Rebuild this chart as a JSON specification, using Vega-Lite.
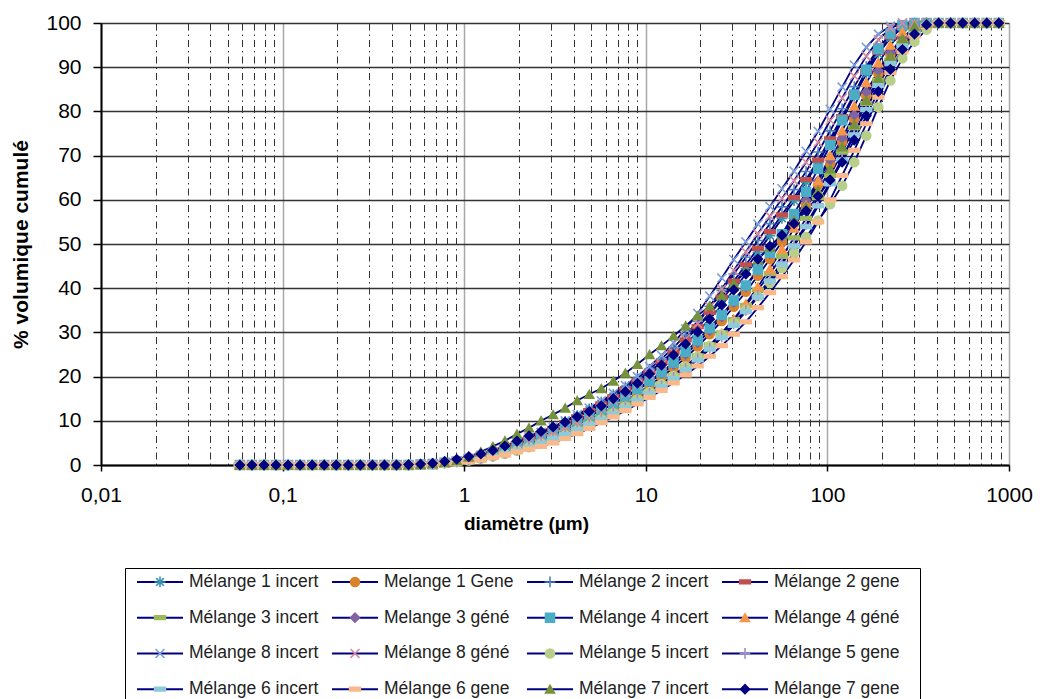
{
  "$schema": "https://vega.github.io/schema/vega-lite/v6.json",
  "background": "white",
  "padding": {"left": 10, "top": 12, "right": 5, "bottom": 0},
  "spacing": 103,
  "bounds": "flush",
  "config": {"font": "Liberation Sans", "view": {"stroke": null}},
  "datasets": {
    "psd": [
      {"dm":0.0582,"a":0,"b":0,"c":0,"d":0,"e":0,"f":0,"g":0,"h":0,"i":0,"j":0,"k":0,"l":0,"m":0,"n":0,"o":0,"p":0},
      {"dm":0.0678,"a":0,"b":0,"c":0,"d":0,"e":0,"f":0,"g":0,"h":0,"i":0,"j":0,"k":0,"l":0,"m":0,"n":0,"o":0,"p":0},
      {"dm":0.079,"a":0,"b":0,"c":0,"d":0,"e":0,"f":0,"g":0,"h":0,"i":0,"j":0,"k":0,"l":0,"m":0,"n":0,"o":0,"p":0},
      {"dm":0.092,"a":0,"b":0,"c":0,"d":0,"e":0,"f":0,"g":0,"h":0,"i":0,"j":0,"k":0,"l":0,"m":0,"n":0,"o":0,"p":0},
      {"dm":0.1072,"a":0,"b":0,"c":0,"d":0,"e":0,"f":0,"g":0,"h":0,"i":0,"j":0,"k":0,"l":0,"m":0,"n":0,"o":0,"p":0},
      {"dm":0.1249,"a":0,"b":0,"c":0,"d":0,"e":0,"f":0,"g":0,"h":0,"i":0,"j":0,"k":0,"l":0,"m":0,"n":0,"o":0,"p":0},
      {"dm":0.1455,"a":0,"b":0,"c":0,"d":0,"e":0,"f":0,"g":0,"h":0,"i":0,"j":0,"k":0,"l":0,"m":0,"n":0,"o":0,"p":0},
      {"dm":0.1695,"a":0,"b":0,"c":0,"d":0,"e":0,"f":0,"g":0,"h":0,"i":0,"j":0,"k":0,"l":0,"m":0,"n":0,"o":0,"p":0},
      {"dm":0.1974,"a":0,"b":0,"c":0,"d":0,"e":0,"f":0,"g":0,"h":0,"i":0,"j":0,"k":0,"l":0,"m":0,"n":0,"o":0,"p":0},
      {"dm":0.23,"a":0,"b":0,"c":0,"d":0,"e":0,"f":0,"g":0,"h":0,"i":0,"j":0,"k":0,"l":0,"m":0,"n":0,"o":0,"p":0},
      {"dm":0.268,"a":0,"b":0,"c":0,"d":0,"e":0,"f":0,"g":0,"h":0,"i":0,"j":0,"k":0,"l":0,"m":0,"n":0,"o":0,"p":0},
      {"dm":0.3122,"a":0,"b":0,"c":0,"d":0,"e":0,"f":0,"g":0,"h":0,"i":0,"j":0,"k":0,"l":0,"m":0,"n":0,"o":0,"p":0},
      {"dm":0.3638,"a":0,"b":0,"c":0,"d":0,"e":0,"f":0,"g":0,"h":0,"i":0,"j":0,"k":0,"l":0,"m":0,"n":0,"o":0,"p":0},
      {"dm":0.4238,"a":0,"b":0,"c":0,"d":0,"e":0,"f":0,"g":0,"h":0,"i":0,"j":0,"k":0,"l":0,"m":0,"n":0,"o":0,"p":0},
      {"dm":0.4937,"a":0,"b":0,"c":0,"d":0,"e":0,"f":0,"g":0,"h":0,"i":0,"j":0,"k":0,"l":0,"m":0,"n":0,"o":0,"p":0.1},
      {"dm":0.5752,"a":0.1,"b":0.1,"c":0.1,"d":0.1,"e":0.1,"f":0.1,"g":0.1,"h":0.1,"i":0.1,"j":0.1,"k":0.1,"l":0.1,"m":0.1,"n":0.1,"o":0.1,"p":0.2},
      {"dm":0.6701,"a":0.3,"b":0.2,"c":0.3,"d":0.3,"e":0.2,"f":0.3,"g":0.2,"h":0.2,"i":0.2,"j":0.2,"k":0.2,"l":0.2,"m":0.2,"n":0.2,"o":0.3,"p":0.4},
      {"dm":0.7807,"a":0.6,"b":0.5,"c":0.6,"d":0.6,"e":0.4,"f":0.6,"g":0.5,"h":0.4,"i":0.5,"j":0.4,"k":0.4,"l":0.4,"m":0.4,"n":0.3,"o":0.6,"p":0.8},
      {"dm":0.9096,"a":1.0,"b":0.8,"c":1.0,"d":1.0,"e":0.7,"f":1.0,"g":0.8,"h":0.7,"i":0.9,"j":0.8,"k":0.7,"l":0.7,"m":0.6,"n":0.5,"o":1.0,"p":1.3},
      {"dm":1.06,"a":1.6,"b":1.3,"c":1.6,"d":1.5,"e":1.1,"f":1.5,"g":1.3,"h":1.1,"i":1.5,"j":1.3,"k":1.0,"l":1.0,"m":1.0,"n":0.8,"o":1.8,"p":1.9},
      {"dm":1.235,"a":2.3,"b":1.9,"c":2.3,"d":2.2,"e":1.6,"f":2.1,"g":1.9,"h":1.6,"i":2.2,"j":1.9,"k":1.4,"l":1.5,"m":1.4,"n":1.2,"o":3.0,"p":2.5},
      {"dm":1.439,"a":3.1,"b":2.5,"c":3.1,"d":3.0,"e":2.2,"f":2.8,"g":2.6,"h":2.2,"i":3.0,"j":2.6,"k":1.9,"l":2.0,"m":1.9,"n":1.7,"o":4.2,"p":3.3},
      {"dm":1.676,"a":4.0,"b":3.2,"c":4.0,"d":3.9,"e":2.9,"f":3.6,"g":3.4,"h":2.9,"i":4.0,"j":3.4,"k":2.5,"l":2.7,"m":2.5,"n":2.3,"o":5.5,"p":4.3},
      {"dm":1.953,"a":5.0,"b":4.0,"c":5.0,"d":4.9,"e":3.7,"f":4.5,"g":4.3,"h":3.7,"i":5.0,"j":4.3,"k":3.2,"l":3.4,"m":3.2,"n":3.0,"o":7.0,"p":5.4},
      {"dm":2.275,"a":6.1,"b":4.9,"c":6.1,"d":6.0,"e":4.5,"f":5.5,"g":5.3,"h":4.6,"i":6.2,"j":5.3,"k":4.0,"l":4.2,"m":4.0,"n":3.6,"o":8.4,"p":6.6},
      {"dm":2.651,"a":7.2,"b":5.9,"c":7.3,"d":7.1,"e":5.4,"f":6.5,"g":6.3,"h":5.5,"i":7.4,"j":6.4,"k":4.8,"l":5.1,"m":4.9,"n":4.2,"o":10.0,"p":7.6},
      {"dm":3.088,"a":8.4,"b":6.9,"c":8.5,"d":8.3,"e":6.4,"f":7.6,"g":7.4,"h":6.5,"i":8.6,"j":7.6,"k":5.7,"l":6.0,"m":5.9,"n":5.0,"o":11.4,"p":8.6},
      {"dm":3.597,"a":9.7,"b":8.0,"c":9.8,"d":9.6,"e":7.4,"f":8.7,"g":8.5,"h":7.5,"i":10.0,"j":8.8,"k":6.7,"l":7.0,"m":6.9,"n":6.0,"o":12.9,"p":9.7},
      {"dm":4.191,"a":11.0,"b":9.2,"c":11.2,"d":10.9,"e":8.5,"f":9.9,"g":9.7,"h":8.6,"i":11.4,"j":10.1,"k":7.8,"l":8.1,"m":8.0,"n":7.1,"o":14.6,"p":10.9},
      {"dm":4.882,"a":12.4,"b":10.4,"c":12.7,"d":12.3,"e":9.7,"f":11.1,"g":11.0,"h":9.7,"i":12.9,"j":11.5,"k":9.0,"l":9.2,"m":9.1,"n":8.3,"o":16.0,"p":12.1},
      {"dm":5.688,"a":13.9,"b":11.7,"c":14.2,"d":13.8,"e":10.9,"f":12.4,"g":12.4,"h":10.9,"i":14.5,"j":13.0,"k":10.3,"l":10.4,"m":10.3,"n":9.6,"o":17.3,"p":13.4},
      {"dm":6.626,"a":15.5,"b":13.1,"c":15.9,"d":15.4,"e":12.2,"f":13.8,"g":13.9,"h":12.1,"i":16.2,"j":14.6,"k":11.7,"l":11.7,"m":11.6,"n":10.9,"o":19.0,"p":15.0},
      {"dm":7.72,"a":17.2,"b":14.6,"c":17.7,"d":17.1,"e":13.6,"f":15.3,"g":15.5,"h":13.4,"i":18.0,"j":16.3,"k":13.2,"l":13.1,"m":13.0,"n":12.3,"o":20.8,"p":16.6},
      {"dm":8.994,"a":19.1,"b":16.2,"c":19.6,"d":19.0,"e":15.1,"f":16.9,"g":17.2,"h":14.8,"i":20.0,"j":18.2,"k":14.8,"l":14.6,"m":14.5,"n":13.8,"o":22.8,"p":18.5},
      {"dm":10.48,"a":21.1,"b":18.0,"c":21.7,"d":21.0,"e":16.7,"f":18.7,"g":19.0,"h":16.3,"i":22.3,"j":20.3,"k":16.5,"l":16.2,"m":16.1,"n":15.3,"o":25.0,"p":20.6},
      {"dm":12.21,"a":23.3,"b":19.9,"c":24.0,"d":23.2,"e":18.4,"f":20.6,"g":21.0,"h":18.0,"i":24.8,"j":22.7,"k":18.3,"l":17.9,"m":17.8,"n":16.9,"o":27.0,"p":22.6},
      {"dm":14.22,"a":25.7,"b":22.0,"c":26.6,"d":25.6,"e":20.3,"f":22.7,"g":23.2,"h":19.9,"i":27.6,"j":25.4,"k":20.2,"l":19.8,"m":19.6,"n":18.6,"o":29.2,"p":24.9},
      {"dm":16.57,"a":28.3,"b":24.3,"c":29.4,"d":28.3,"e":22.4,"f":25.0,"g":25.6,"h":22.0,"i":30.8,"j":28.5,"k":22.3,"l":21.8,"m":21.6,"n":20.4,"o":31.5,"p":27.4},
      {"dm":19.3,"a":31.1,"b":26.8,"c":32.5,"d":31.3,"e":24.7,"f":27.6,"g":28.2,"h":24.3,"i":34.3,"j":32.0,"k":24.5,"l":24.0,"m":23.8,"n":22.4,"o":33.8,"p":30.1},
      {"dm":22.49,"a":34.1,"b":29.6,"c":35.9,"d":34.5,"e":27.2,"f":30.4,"g":31.0,"h":26.9,"i":38.2,"j":35.8,"k":26.9,"l":26.4,"m":26.2,"n":24.6,"o":36.0,"p":33.0},
      {"dm":26.2,"a":37.4,"b":32.6,"c":39.5,"d":38.0,"e":29.9,"f":33.5,"g":34.0,"h":29.8,"i":42.3,"j":39.8,"k":29.5,"l":29.0,"m":28.8,"n":27.0,"o":38.4,"p":36.2},
      {"dm":30.52,"a":40.8,"b":35.8,"c":43.2,"d":41.6,"e":32.9,"f":36.8,"g":37.2,"h":33.0,"i":46.5,"j":44.0,"k":32.2,"l":31.9,"m":31.6,"n":29.6,"o":41.0,"p":39.6},
      {"dm":35.56,"a":44.4,"b":39.2,"c":47.0,"d":45.3,"e":36.1,"f":40.3,"g":40.6,"h":36.5,"i":50.5,"j":48.2,"k":35.1,"l":35.0,"m":34.7,"n":32.4,"o":43.8,"p":43.2},
      {"dm":41.42,"a":48.1,"b":42.8,"c":50.8,"d":49.0,"e":39.6,"f":44.0,"g":44.2,"h":40.3,"i":54.5,"j":52.3,"k":38.2,"l":38.4,"m":38.0,"n":35.6,"o":46.5,"p":46.6},
      {"dm":48.26,"a":51.9,"b":46.6,"c":54.6,"d":52.8,"e":43.3,"f":47.8,"g":48.0,"h":44.4,"i":58.5,"j":56.3,"k":41.2,"l":42.0,"m":41.6,"n":39.0,"o":49.3,"p":49.5},
      {"dm":56.22,"a":55.8,"b":50.5,"c":58.4,"d":56.6,"e":47.2,"f":51.7,"g":52.2,"h":48.8,"i":62.5,"j":60.3,"k":44.5,"l":45.9,"m":45.4,"n":42.6,"o":52.2,"p":52.0},
      {"dm":65.5,"a":59.8,"b":54.6,"c":62.3,"d":60.5,"e":51.4,"f":55.7,"g":56.8,"h":53.6,"i":66.5,"j":64.3,"k":48.0,"l":50.0,"m":49.5,"n":46.4,"o":55.3,"p":54.6},
      {"dm":76.31,"a":64.0,"b":58.9,"c":66.4,"d":64.6,"e":55.8,"f":59.9,"g":61.8,"h":58.8,"i":71.0,"j":68.5,"k":51.6,"l":54.4,"m":53.9,"n":50.5,"o":58.5,"p":57.5},
      {"dm":88.9,"a":68.4,"b":63.4,"c":70.8,"d":69.0,"e":60.5,"f":64.3,"g":67.0,"h":64.3,"i":75.5,"j":73.0,"k":55.3,"l":59.1,"m":58.6,"n":55.0,"o":62.0,"p":60.8},
      {"dm":103.6,"a":73.2,"b":68.1,"c":75.6,"d":73.8,"e":65.5,"f":69.0,"g":72.4,"h":70.0,"i":80.5,"j":78.0,"k":59.0,"l":64.1,"m":63.6,"n":60.0,"o":67.0,"p":64.5},
      {"dm":120.6,"a":78.2,"b":73.1,"c":80.6,"d":78.8,"e":70.8,"f":74.0,"g":78.0,"h":75.6,"i":85.5,"j":83.0,"k":63.2,"l":69.4,"m":69.0,"n":65.5,"o":72.0,"p":68.5},
      {"dm":140.6,"a":83.4,"b":78.3,"c":85.6,"d":84.0,"e":76.3,"f":79.2,"g":83.8,"h":81.2,"i":90.5,"j":88.0,"k":68.5,"l":75.0,"m":74.7,"n":71.2,"o":77.0,"p":73.5},
      {"dm":163.8,"a":88.5,"b":83.5,"c":90.2,"d":89.0,"e":81.8,"f":84.4,"g":89.4,"h":86.5,"i":94.5,"j":92.5,"k":74.5,"l":80.6,"m":80.4,"n":77.2,"o":82.5,"p":79.0},
      {"dm":190.8,"a":93.0,"b":88.5,"c":94.2,"d":93.4,"e":87.0,"f":89.2,"g":94.2,"h":91.0,"i":97.5,"j":96.2,"k":81.0,"l":86.0,"m":85.9,"n":83.2,"o":87.5,"p":84.5},
      {"dm":222.3,"a":96.6,"b":92.8,"c":97.4,"d":96.8,"e":91.6,"f":93.4,"g":97.6,"h":95.0,"i":99.3,"j":98.8,"k":87.0,"l":90.9,"m":90.8,"n":88.8,"o":92.5,"p":89.5},
      {"dm":259.0,"a":98.9,"b":96.3,"c":99.4,"d":99.0,"e":95.4,"f":96.7,"g":99.5,"h":98.0,"i":100,"j":100,"k":92.0,"l":94.9,"m":94.8,"n":93.5,"o":96.5,"p":94.0},
      {"dm":301.7,"a":100,"b":98.7,"c":100,"d":100,"e":98.2,"f":98.9,"g":100,"h":99.6,"i":100,"j":100,"k":95.8,"l":97.9,"m":97.8,"n":97.0,"o":99.2,"p":97.5},
      {"dm":351.5,"a":100,"b":99.8,"c":100,"d":100,"e":99.7,"f":99.9,"g":100,"h":100,"i":100,"j":100,"k":98.5,"l":99.6,"m":99.5,"n":99.2,"o":100,"p":99.6},
      {"dm":409.5,"a":100,"b":100,"c":100,"d":100,"e":100,"f":100,"g":100,"h":100,"i":100,"j":100,"k":100,"l":100,"m":100,"n":100,"o":100,"p":100},
      {"dm":477.0,"a":100,"b":100,"c":100,"d":100,"e":100,"f":100,"g":100,"h":100,"i":100,"j":100,"k":100,"l":100,"m":100,"n":100,"o":100,"p":100},
      {"dm":555.7,"a":100,"b":100,"c":100,"d":100,"e":100,"f":100,"g":100,"h":100,"i":100,"j":100,"k":100,"l":100,"m":100,"n":100,"o":100,"p":100},
      {"dm":647.4,"a":100,"b":100,"c":100,"d":100,"e":100,"f":100,"g":100,"h":100,"i":100,"j":100,"k":100,"l":100,"m":100,"n":100,"o":100,"p":100},
      {"dm":754.2,"a":100,"b":100,"c":100,"d":100,"e":100,"f":100,"g":100,"h":100,"i":100,"j":100,"k":100,"l":100,"m":100,"n":100,"o":100,"p":100},
      {"dm":878.7,"a":100,"b":100,"c":100,"d":100,"e":100,"f":100,"g":100,"h":100,"i":100,"j":100,"k":100,"l":100,"m":100,"n":100,"o":100,"p":100}
    ],
    "leg": [
      {"k":"a","n":"Mélange 1 incert","c":0,"r":0},
      {"k":"b","n":"Melange 1 Gene","c":1,"r":0},
      {"k":"c","n":"Mélange 2 incert","c":2,"r":0},
      {"k":"d","n":"Mélange 2 gene","c":3,"r":0},
      {"k":"e","n":"Mélange 3 incert","c":0,"r":1},
      {"k":"f","n":"Melange 3 géné","c":1,"r":1},
      {"k":"g","n":"Mélange 4 incert","c":2,"r":1},
      {"k":"h","n":"Mélange 4 géné","c":3,"r":1},
      {"k":"i","n":"Mélange 8 incert","c":0,"r":2},
      {"k":"j","n":"Mélange 8 géné","c":1,"r":2},
      {"k":"k","n":"Mélange 5 incert","c":2,"r":2},
      {"k":"l","n":"Mélange 5 gene","c":3,"r":2},
      {"k":"m","n":"Mélange 6 incert","c":0,"r":3},
      {"k":"n","n":"Mélange 6 gene","c":1,"r":3},
      {"k":"o","n":"Mélange 7 incert","c":2,"r":3},
      {"k":"p","n":"Mélange 7 gene","c":3,"r":3}
    ]
  },
  "vconcat": [
    {
      "width": 908,
      "height": 442,
      "data": {"name": "psd"},
      "transform": [{"fold": ["a","b","c","d","e","f","g","h","i","j","k","l","m","n","o","p"], "as": ["k","v"]}],
      "layer": [
        {
          "mark": {"type": "line", "color": "#000080", "strokeWidth": 1.8},
          "encoding": {
            "x": {"field": "dm", "type": "quantitative", "scale": {"type": "log", "domain": [0.01, 1000]},
              "axis": {"values": [0.01, 0.1, 1, 10, 100, 1000], "labelExpr": "replace(toString(datum.value), '.', ',')",
                "labelFont": "Liberation Sans", "labelFontSize": 21, "labelColor": "#000", "labelPadding": 13, "labelFlush": false,
                "tickSize": 6, "tickColor": "#000", "tickWidth": 1.5, "domainColor": "#000", "domainWidth": 2,
                "grid": true, "gridColor": "#a8a8a8", "gridWidth": 1.5,
                "title": "diamètre (µm)", "titleFont": "Liberation Sans", "titleFontSize": 19, "titleFontWeight": "bold", "titleColor": "#000",
                "titleX": 425, "titlePadding": 9}},
            "y": {"field": "v", "type": "quantitative", "scale": {"domain": [0, 100], "nice": false},
              "axis": {"values": [0,10,20,30,40,50,60,70,80,90,100],
                "labelFont": "Liberation Sans", "labelFontSize": 21, "labelColor": "#000", "labelPadding": 12,
                "tickSize": 8, "tickColor": "#000", "tickWidth": 1.5, "domainColor": "#000", "domainWidth": 2,
                "grid": true, "gridColor": "#333", "gridWidth": 1.5,
                "title": "% volumique cumulé", "titleFont": "Liberation Sans", "titleFontSize": 21, "titleFontWeight": "bold", "titleColor": "#000", "titlePadding": 14}},
            "detail": {"field": "k"}
          }
        },
        {
          "mark": {"type": "point", "filled": true, "size": 80, "strokeWidth": 1.6, "opacity": 1},
          "encoding": {
            "x": {"field": "dm", "type": "quantitative", "scale": {"type": "log", "domain": [0.01, 1000]},
              "axis": {"orient": "bottom", "values": [0.02,0.03,0.04,0.05,0.06,0.07,0.08,0.09,0.2,0.3,0.4,0.5,0.6,0.7,0.8,0.9,2,3,4,5,6,7,8,9,20,30,40,50,60,70,80,90,200,300,400,500,600,700,800,900],
                "labels": false, "ticks": false, "domain": false, "title": null,
                "grid": true, "gridColor": "#333", "gridWidth": 1, "gridDash": [7, 4, 1.5, 4]}},
            "y": {"field": "v", "type": "quantitative", "scale": {"domain": [0, 100], "nice": false}, "axis": null},
            "shape": {"field": "k", "type": "nominal", "legend": null, "scale": {"domain": ["a","b","c","d","e","f","g","h","i","j","k","l","m","n","o","p"],
              "range": ["M-1.2,0H1.2M0,-1.2V1.2M-0.85,-0.85L0.85,0.85M-0.85,0.85L0.85,-0.85", "circle", "M-1.2,0H1.2M0,-1.2V1.2", "M-1.2,-0.4H1.2V0.4H-1.2Z", "M-1.2,-0.4H1.2V0.4H-1.2Z", "diamond", "square", "triangle-up", "M-1,-1L1,1M-1,1L1,-1", "M-1,-1L1,1M-1,1L1,-1", "circle", "M-1.2,0H1.2M0,-1.2V1.2", "M-1.2,-0.4H1.2V0.4H-1.2Z", "M-1.2,-0.4H1.2V0.4H-1.2Z", "triangle-up", "diamond"]}},
            "fill": {"field": "k", "type": "nominal", "legend": null, "scale": {"domain": ["a","b","c","d","e","f","g","h","i","j","k","l","m","n","o","p"],
              "range": ["#3A93AE","#D9822B","#4F81BD","#C0504D","#9BBB59","#8064A2","#4BACC6","#F79646","#7F9FDA","#D38AA0","#B8CF8A","#9E8FC8","#8FC9DC","#F9B98A","#76923C","#000080"]}},
            "stroke": {"field": "k", "type": "nominal", "legend": null, "scale": {"domain": ["a","b","c","d","e","f","g","h","i","j","k","l","m","n","o","p"],
              "range": ["#3A93AE","#D9822B","#4F81BD","#C0504D","#9BBB59","#8064A2","#4BACC6","#F79646","#7F9FDA","#D38AA0","#B8CF8A","#9E8FC8","#8FC9DC","#F9B98A","#76923C","#000080"]}}
          }
        }
      ],
      "resolve": {"axis": {"x": "independent", "y": "independent"}}
    },
    {
      "spacing": 20,
      "hconcat": [
        {"width": 3, "height": 143, "data": {"values": []}, "mark": "point"},
        {
          "width": 795,
          "height": 143,
          "view": {"stroke": "#000", "strokeWidth": 1},
          "data": {"name": "leg"},
          "encoding": {
            "x": {"field": "c", "type": "quantitative", "scale": {"domain": [-0.1795, 3.8974], "nice": false, "zero": false}, "axis": null},
            "y": {"field": "r", "type": "quantitative", "scale": {"domain": [-0.39, 3.61], "nice": false, "zero": false, "reverse": true}, "axis": null}
          },
          "layer": [
            {"mark": {"type": "point", "shape": "M-1,0H1", "size": 2116, "filled": false, "color": "#000080", "stroke": "#000080", "strokeWidth": 2, "opacity": 1}},
            {
              "mark": {"type": "point", "filled": true, "size": 80, "strokeWidth": 1.6, "opacity": 1},
              "encoding": {
                "shape": {"field": "k", "type": "nominal", "legend": null, "scale": {"domain": ["a","b","c","d","e","f","g","h","i","j","k","l","m","n","o","p"],
                  "range": ["M-1.2,0H1.2M0,-1.2V1.2M-0.85,-0.85L0.85,0.85M-0.85,0.85L0.85,-0.85", "circle", "M-1.2,0H1.2M0,-1.2V1.2", "M-1.2,-0.4H1.2V0.4H-1.2Z", "M-1.2,-0.4H1.2V0.4H-1.2Z", "diamond", "square", "triangle-up", "M-1,-1L1,1M-1,1L1,-1", "M-1,-1L1,1M-1,1L1,-1", "circle", "M-1.2,0H1.2M0,-1.2V1.2", "M-1.2,-0.4H1.2V0.4H-1.2Z", "M-1.2,-0.4H1.2V0.4H-1.2Z", "triangle-up", "diamond"]}},
                "fill": {"field": "k", "type": "nominal", "legend": null, "scale": {"domain": ["a","b","c","d","e","f","g","h","i","j","k","l","m","n","o","p"],
                  "range": ["#3A93AE","#D9822B","#4F81BD","#C0504D","#9BBB59","#8064A2","#4BACC6","#F79646","#7F9FDA","#D38AA0","#B8CF8A","#9E8FC8","#8FC9DC","#F9B98A","#76923C","#000080"]}},
                "stroke": {"field": "k", "type": "nominal", "legend": null, "scale": {"domain": ["a","b","c","d","e","f","g","h","i","j","k","l","m","n","o","p"],
                  "range": ["#3A93AE","#D9822B","#4F81BD","#C0504D","#9BBB59","#8064A2","#4BACC6","#F79646","#7F9FDA","#D38AA0","#B8CF8A","#9E8FC8","#8FC9DC","#F9B98A","#76923C","#000080"]}}
              }
            },
            {
              "mark": {"type": "text", "align": "left", "baseline": "middle", "dx": 29, "font": "Liberation Sans", "fontSize": 17.5, "color": "#222"},
              "encoding": {"text": {"field": "n"}}
            }
          ]
        }
      ]
    }
  ]
}
